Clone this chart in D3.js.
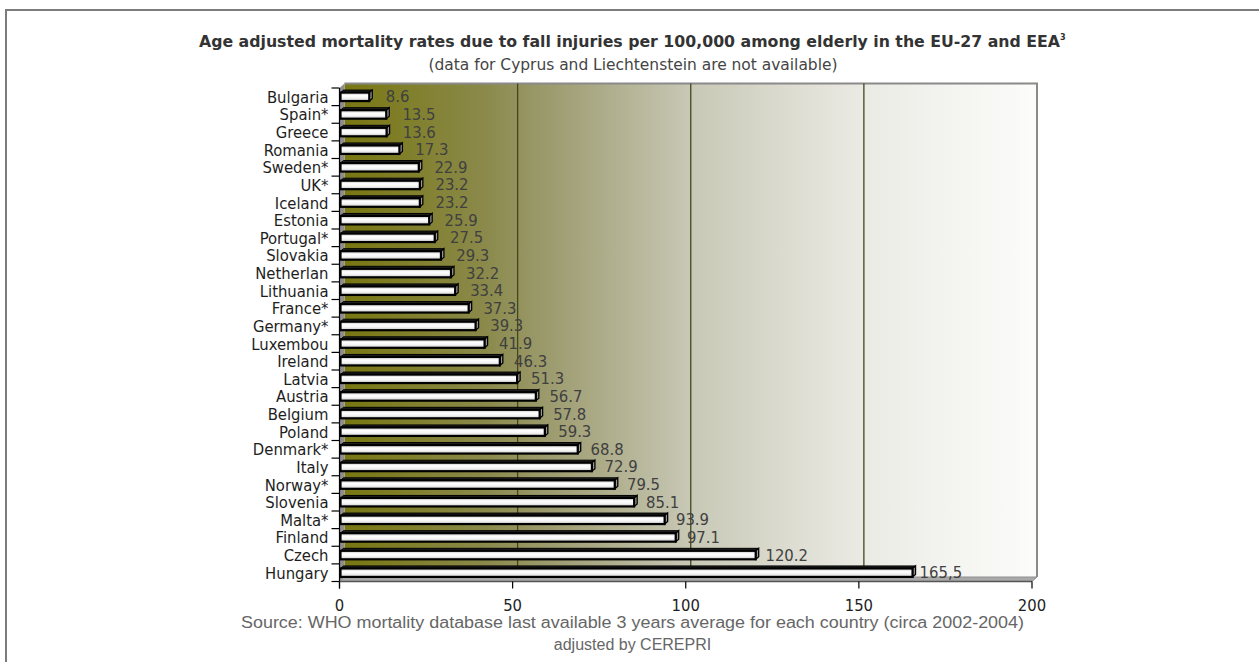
<!DOCTYPE html>
<html>
<head>
<meta charset="utf-8">
<script src="https://cdn.jsdelivr.net/npm/d3@7"></script>
<style>
  html, body { margin: 0; padding: 0; background: #fff; }
  svg { display: block; }
</style>
</head>
<body>
<svg id="chart" width="1259" height="662"></svg>
<script>
// Countries, top to bottom
const countries = [
  "Bulgaria", "Spain*", "Greece", "Romania", "Sweden*", "UK*", "Iceland",
  "Estonia", "Portugal*", "Slovakia", "Netherlan", "Lithuania", "France*",
  "Germany*", "Luxembou", "Ireland", "Latvia", "Austria", "Belgium", "Poland",
  "Denmark*", "Italy", "Norway*", "Slovenia", "Malta*", "Finland", "Czech", "Hungary"
];
// Rate labels as printed; bar lengths are parsed from the same strings
const rateLabels = [
  "8.6", "13.5", "13.6", "17.3", "22.9", "23.2", "23.2",
  "25.9", "27.5", "29.3", "32.2", "33.4", "37.3",
  "39.3", "41.9", "46.3", "51.3", "56.7", "57.8", "59.3",
  "68.8", "72.9", "79.5", "85.1", "93.9", "97.1", "120.2", "165,5"
];
const rates = rateLabels.map(s => +s.replace(",", "."));
const xTicks = [0, 50, 100, 150, 200];
const gridValues = [50, 100, 150];

const titleText = "Age adjusted mortality rates due to fall injuries per 100,000 among elderly in the EU-27 and EEA";
const titleSup = "3";
const subtitleText = "(data for Cyprus and Liechtenstein are not available)";
const sourceLines = [
  "Source: WHO mortality database last available 3 years average for each country (circa 2002-2004)",
  "adjusted by CEREPRI"
];

const svg = d3.select("#chart");
const labelFont = "'DejaVu Sans Condensed', 'DejaVu Sans', sans-serif";

// Outer frame
svg.append("path")
  .attr("d", "M6,662 V10 H1259")
  .attr("fill", "none")
  .attr("stroke", "#7c7c7c")
  .attr("stroke-width", 2);

// Plot geometry (front plane) and 3D depth offset
const front = { left: 339.5, right: 1032, top: 88, bottom: 581.5 };
const depth = { dx: 5, dy: -4.5 };

const x = d3.scaleLinear().domain([0, 200]).range([front.left, front.right]);
const y = d3.scaleBand().domain(countries).range([front.top, front.bottom]).padding(0);

// Back wall gradient
const defs = svg.append("defs");
const wallGrad = defs.append("linearGradient")
  .attr("id", "wallGrad").attr("x1", "0").attr("x2", "1").attr("y1", "0").attr("y2", "0");
[[0, "#787712"], [0.2, "#8a894a"], [0.3, "#9d9c70"], [0.5, "#c8c8b6"], [0.75, "#ebebe5"], [1, "#fcfcfb"]]
  .forEach(([o, c]) => wallGrad.append("stop").attr("offset", o).attr("stop-color", c));

const barGrad = defs.append("linearGradient")
  .attr("id", "barGrad").attr("x1", "0").attr("x2", "0").attr("y1", "0").attr("y2", "1");
[[0, "#b8b8b8"], [0.35, "#ffffff"], [0.65, "#f4f4f4"], [1, "#c2c2c2"]]
  .forEach(([o, c]) => barGrad.append("stop").attr("offset", o).attr("stop-color", c));

const wall = {
  left: front.left + depth.dx, right: front.right + depth.dx,
  top: front.top + depth.dy, bottom: front.bottom + depth.dy
};

// Back wall
svg.append("rect")
  .attr("x", wall.left).attr("y", wall.top)
  .attr("width", wall.right - wall.left).attr("height", wall.bottom - wall.top)
  .attr("fill", "url(#wallGrad)");
svg.append("path")
  .attr("d", `M${wall.left},${wall.top} H${wall.right} V${wall.bottom}`)
  .attr("fill", "none").attr("stroke", "#8a8a8a").attr("stroke-width", 2);

// Side wall
svg.append("path")
  .attr("d", `M${front.left},${front.top} L${wall.left},${wall.top} L${wall.left},${wall.bottom} L${front.left},${front.bottom} Z`)
  .attr("fill", "#8e8e8e");

// Floor
svg.append("path")
  .attr("d", `M${front.left},${front.bottom} L${wall.left},${wall.bottom} L${wall.right},${wall.bottom} L${front.right},${front.bottom} Z`)
  .attr("fill", "#a9a9a9").attr("stroke", "#909090").attr("stroke-width", 1);

// Gridlines on the back wall
svg.append("g").selectAll("line")
  .data(gridValues)
  .join("line")
  .attr("x1", d => x(d) + depth.dx).attr("x2", d => x(d) + depth.dx)
  .attr("y1", wall.top).attr("y2", wall.bottom)
  .attr("stroke", "#46461c").attr("stroke-width", 1.3);

// Bars
const barH = 8.5;
const bars = svg.append("g").selectAll("g")
  .data(countries.map((c, i) => ({ c, v: rates[i], label: rateLabels[i] })))
  .join("g");

const d3x = 3, d3y = -2.5;
bars.each(function(d) {
  const g = d3.select(this);
  const cy = y(d.c) + y.bandwidth() / 2;
  const y0 = cy - barH / 2, y1 = cy + barH / 2;
  const x0 = x(0) + 1, x1 = x(d.v);
  // top face
  g.append("path")
    .attr("d", `M${x0},${y0} L${x0 + d3x},${y0 + d3y} L${x1 + d3x},${y0 + d3y} L${x1},${y0} Z`)
    .attr("fill", "#222").attr("stroke", "#000").attr("stroke-width", 1);
  // end face
  g.append("path")
    .attr("d", `M${x1},${y0} L${x1 + d3x},${y0 + d3y} L${x1 + d3x},${y1 + d3y} L${x1},${y1} Z`)
    .attr("fill", "#9a9a9a").attr("stroke", "#000").attr("stroke-width", 1.3);
  // front face
  g.append("rect")
    .attr("x", x0).attr("y", y0)
    .attr("width", x1 - x0).attr("height", barH)
    .attr("fill", "url(#barGrad)")
    .attr("stroke", "#000").attr("stroke-width", 2.2);
});

// Value labels, pushed a little less far out as the bars grow
bars.append("text")
  .attr("x", d => x(d.v) + 17 - 0.06 * d.v)
  .attr("y", d => y(d.c) + y.bandwidth() / 2 + 5.5)
  .attr("font-family", labelFont)
  .attr("font-size", 16.5)
  .attr("fill", "#404040")
  .text(d => d.label);

// Category axis
const yAxisG = svg.append("g");
yAxisG.append("line")
  .attr("x1", front.left).attr("x2", front.left)
  .attr("y1", front.top).attr("y2", front.bottom + 7)
  .attr("stroke", "#000").attr("stroke-width", 1.2);
yAxisG.selectAll("line.tick")
  .data(d3.range(countries.length + 1))
  .join("line")
  .attr("class", "tick")
  .attr("x1", front.left - 8).attr("x2", front.left)
  .attr("y1", i => front.top + i * y.step()).attr("y2", i => front.top + i * y.step())
  .attr("stroke", "#000").attr("stroke-width", 1.2);
yAxisG.selectAll("text")
  .data(countries)
  .join("text")
  .attr("x", front.left - 11)
  .attr("y", d => y(d) + y.bandwidth() / 2 + 6)
  .attr("text-anchor", "end")
  .attr("font-family", labelFont)
  .attr("font-size", 16.5)
  .attr("fill", "#1e1e1e")
  .text(d => d);

// Value axis
const xAxisG = svg.append("g");
xAxisG.append("line")
  .attr("x1", front.left).attr("x2", front.right)
  .attr("y1", front.bottom).attr("y2", front.bottom)
  .attr("stroke", "#555").attr("stroke-width", 1.5);
xAxisG.selectAll("line.tick")
  .data(xTicks)
  .join("line")
  .attr("class", "tick")
  .attr("x1", d => x(d)).attr("x2", d => x(d))
  .attr("y1", front.bottom).attr("y2", front.bottom + 7)
  .attr("stroke", "#000").attr("stroke-width", 1.2);
xAxisG.selectAll("text")
  .data(xTicks)
  .join("text")
  .attr("x", d => x(d))
  .attr("y", 611)
  .attr("text-anchor", "middle")
  .attr("font-family", labelFont)
  .attr("font-size", 16.5)
  .attr("fill", "#1e1e1e")
  .text(d => d);

// Title
const title = svg.append("text")
  .attr("x", 199).attr("y", 46.5)
  .attr("font-family", labelFont)
  .attr("font-weight", "bold")
  .attr("font-size", 16)
  .attr("fill", "#333");
title.append("tspan").text(titleText)
  .attr("textLength", 861).attr("lengthAdjust", "spacingAndGlyphs");
title.append("tspan").text(titleSup)
  .attr("font-size", 9).attr("dy", -7);

svg.append("text")
  .attr("x", 633).attr("y", 69.5)
  .attr("text-anchor", "middle")
  .attr("font-family", labelFont)
  .attr("font-size", 16)
  .attr("fill", "#444")
  .attr("textLength", 409).attr("lengthAdjust", "spacingAndGlyphs")
  .text(subtitleText);

// Source note
svg.append("g").selectAll("text")
  .data(sourceLines)
  .join("text")
  .attr("x", 632.5)
  .attr("y", (d, i) => 627.5 + i * 22)
  .attr("text-anchor", "middle")
  .attr("font-family", "'Liberation Sans', Arial, sans-serif")
  .attr("font-size", 16)
  .attr("fill", "#666")
  .each(function(d, i) {
    if (i === 0) d3.select(this).attr("textLength", 783).attr("lengthAdjust", "spacingAndGlyphs");
  })
  .text(d => d);
</script>
</body>
</html>
